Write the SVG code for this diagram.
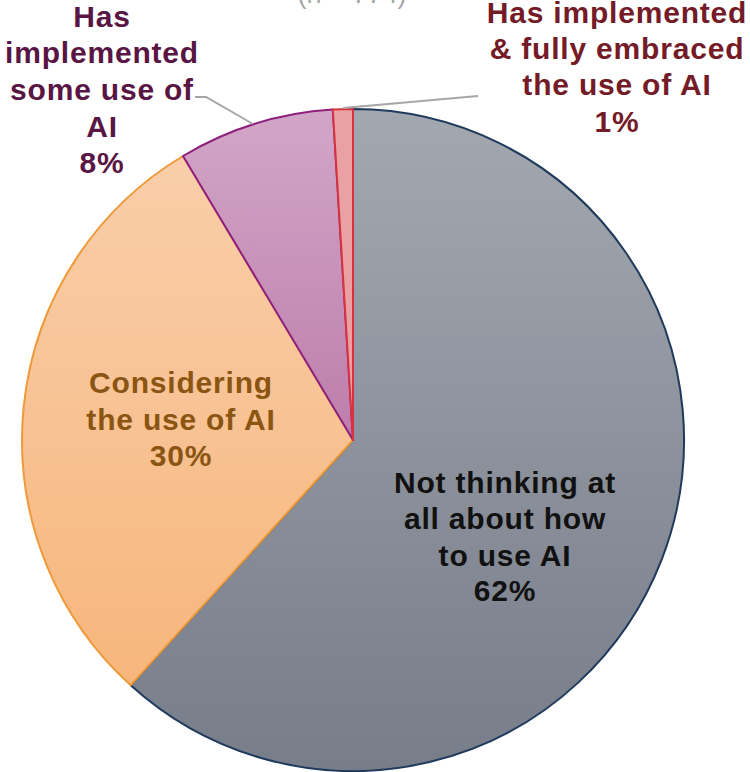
<svg xmlns="http://www.w3.org/2000/svg" width="750" height="772" viewBox="0 0 750 772">
<defs>
<linearGradient id="gGrey" gradientUnits="userSpaceOnUse" x1="0" y1="109" x2="0" y2="771"><stop offset="0" stop-color="#a3a8b0"/><stop offset="1" stop-color="#777d89"/></linearGradient>
<linearGradient id="gOrange" gradientUnits="userSpaceOnUse" x1="0" y1="156" x2="0" y2="690"><stop offset="0" stop-color="#f9ceaa"/><stop offset="1" stop-color="#f7b67c"/></linearGradient>
<linearGradient id="gPurple" gradientUnits="userSpaceOnUse" x1="0" y1="109" x2="0" y2="440"><stop offset="0" stop-color="#d2a6c8"/><stop offset="1" stop-color="#bd7dab"/></linearGradient>
<style>
.lbl{font-family:"Liberation Sans",Arial,sans-serif;font-weight:bold;font-size:30px;letter-spacing:0.8px;text-anchor:middle}
.lead{fill:none;stroke:#a6a6a6;stroke-width:2}
</style>
</defs>
<text x="352" y="3" font-family="Liberation Sans,Arial,sans-serif" font-size="27" fill="#a6a6a6" text-anchor="middle">(n = 774)</text>
<g id="slice-not-thinking">
<path d="M353,440 L353,109 A331,331 0 1 1 130.7,685.2 Z" fill="url(#gGrey)" stroke="#1f3a5c" stroke-width="2" stroke-linejoin="round"/>
</g>
<g id="slice-considering">
<path d="M353,440 L130.7,685.2 A331,331 0 0 1 183,156 Z" fill="url(#gOrange)" stroke="#ee9a3a" stroke-width="2" stroke-linejoin="round"/>
</g>
<g id="slice-some-use">
<path d="M353,440 L183,156 A331,331 0 0 1 332.8,109.6 Z" fill="url(#gPurple)" stroke="#8e1f7c" stroke-width="2" stroke-linejoin="round"/>
</g>
<g id="slice-fully">
<path d="M353,440 L332.8,109.6 A331,331 0 0 1 353,109 Z" fill="#e9a1a3" stroke="#d8313f" stroke-width="2" stroke-linejoin="round"/>
</g>
<g id="connectors">
<polyline class="lead" points="195,97 206,97 253,124"/>
<polyline class="lead" points="343,108 478,96"/>
</g>
<g id="label-not-thinking" class="lbl" fill="#111111">
<text x="505" y="493">Not thinking at</text>
<text x="505" y="529">all about how</text>
<text x="505" y="566">to use AI</text>
<text x="505" y="601">62%</text>
</g>
<g id="label-considering" class="lbl" fill="#8a5513">
<text x="181" y="393">Considering</text>
<text x="181" y="430">the use of AI</text>
<text x="181" y="466">30%</text>
</g>
<g id="label-some-use" class="lbl" fill="#591544">
<text x="102" y="27">Has</text>
<text x="102" y="63">implemented</text>
<text x="102" y="100">some use of</text>
<text x="102" y="137">AI</text>
<text x="102" y="173">8%</text>
</g>
<g id="label-fully" class="lbl" fill="#741b27">
<text x="617" y="23">Has implemented</text>
<text x="617" y="59">&amp; fully embraced</text>
<text x="617" y="95">the use of AI</text>
<text x="617" y="132">1%</text>
</g>
</svg>
